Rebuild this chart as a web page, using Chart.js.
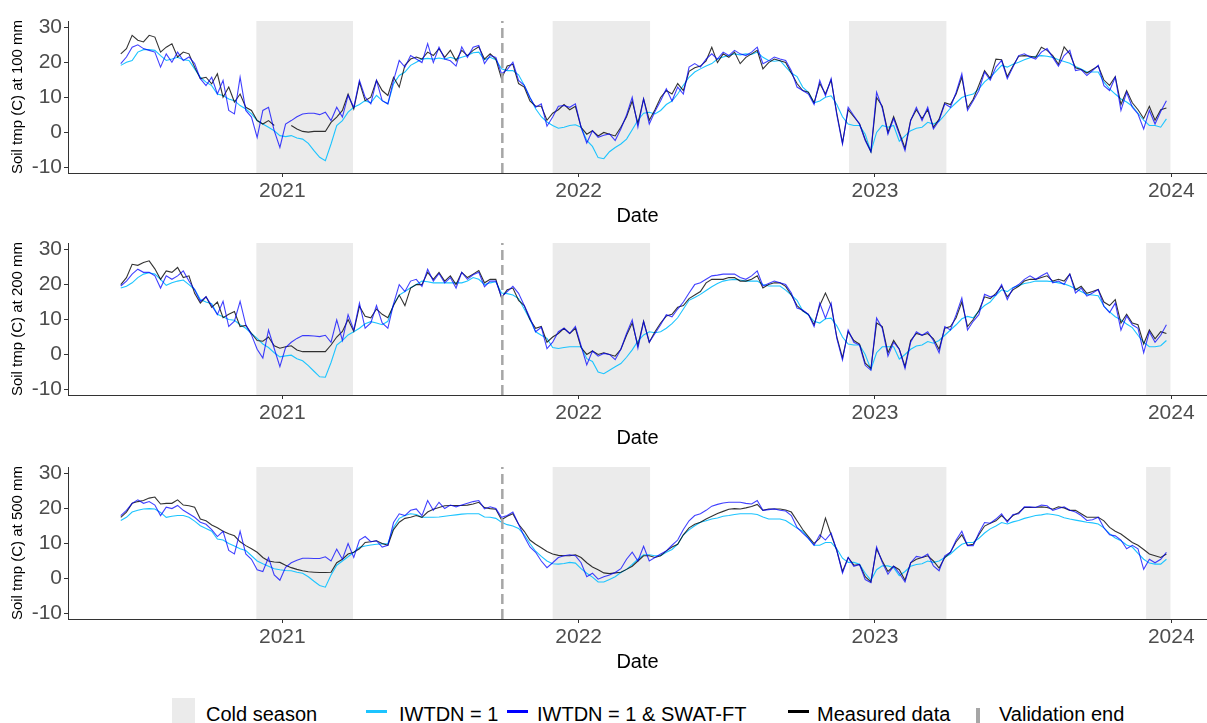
<!DOCTYPE html>
<html>
<head>
<meta charset="utf-8">
<title>Soil temperature at three depths</title>
<script src="https://cdn.jsdelivr.net/npm/chart.js@4.4.1/dist/chart.umd.min.js"></script>
<style>
  html, body { margin: 0; padding: 0; background: #fff; }
  body { position: relative; width: 1207px; height: 723px; overflow: hidden; font-family: "Liberation Sans", Arial, sans-serif; }
  .panel { position: absolute; left: 0; }
  .lg { position: absolute; top: 704px; font-size: 20px; line-height: 21px; color: #000; white-space: nowrap; }
  .key { position: absolute; }
</style>
</head>
<body>
<canvas id="c100" class="panel" width="1207" height="240" style="top:1px"></canvas>
<canvas id="c200" class="panel" width="1207" height="240" style="top:223px"></canvas>
<canvas id="c500" class="panel" width="1207" height="240" style="top:447px"></canvas>

<div id="legend">
  <div class="key" style="left:172px;top:698px;width:23px;height:30px;background:#ebebeb"></div>
  <div class="lg" style="left:206px">Cold season</div>
  <div class="key" style="left:366px;top:710px;width:21px;height:3px;background:#1cc4ff"></div>
  <div class="lg" style="left:399px">IWTDN = 1</div>
  <div class="key" style="left:507px;top:710px;width:21px;height:3px;background:#0000ff"></div>
  <div class="lg" style="left:537px">IWTDN = 1 &amp; SWAT-FT</div>
  <div class="key" style="left:788px;top:710px;width:21px;height:3px;background:#000"></div>
  <div class="lg" style="left:817px">Measured data</div>
  <div class="key" style="left:976px;top:708px;width:4px;height:20px;background:#a6a6a6"></div>
  <div class="lg" style="left:999px">Validation end</div>
</div>

<script>
// Weekly readings of daily soil temperature (deg C), starting 2020-06-16
const seriesStart = '2020-06-16';
const stepDays = 7;

const yearTicks = ['2021', '2022', '2023', '2024'];
const yTicks = [-10, 0, 10, 20, 30];
const coldStarts = ['2020-11-30', '2021-11-30', '2022-11-30', '2023-12-01'];
const coldEnds = ['2021-03-29', '2022-03-30', '2023-03-30', '2023-12-31'];
const validationEnd = '2021-09-29';

// 100 mm
const iwtdn100 = [
  19.2, 20.1, 20.6, 23, 23.7, 23.7, 23.5, 22, 20.6, 21,
  21.5, 20.8, 20.6, 18.2, 15.8, 14.4, 13.4, 11, 10.6, 9.6,
  9.1, 7.7, 6.7, 5.3, 3.4, 2.4, 1.5, 0.5, -0.9, -1.2,
  -0.9, -1.6, -1.9, -3.1, -5.2, -7.1, -8.1, -3.3, 2.0, 3.4,
  5.8, 7.2, 8, 9.1, 8.5, 10.6, 9.1, 8.2, 13.9, 16.3,
  17.3, 19.2, 20.1, 21, 21.2, 21, 21.3, 21, 21.5, 21,
  21.5, 22, 22.8, 23, 20.8, 21.5, 20.8, 18.2, 17.7, 17.7,
  16.5, 13.5, 10, 6.8, 4.5, 3, 2, 1.2, 1.5, 2,
  2.2, 1.5, -2.3, -4, -7.2, -7.5, -5.5, -4.3, -3.3, -1.9,
  0.8, 3.5, 5.5, 5.8, 5.3, 6.3, 8, 9, 11, 13.5,
  15.8, 17.3, 18.2, 19, 19.7, 21, 21.6, 22, 22.5, 22.2,
  22.5, 22.3, 23, 21.5, 20.6, 20.4, 20.6, 18.8, 17, 16,
  13, 11.5, 8.5, 9, 10.1, 10.5, 8, 4.5, 2.4, 2,
  2, -0.5, -5.5, 0, 2, 1.5, 2, -2.5, -1, 0.5,
  1.2, 1.5, 2.9, 2.4, 3.2, 5, 7, 8.5, 10, 10.6,
  11, 12.5, 14.5, 15.8, 17.5, 19.2, 18.7, 19.5, 20.1, 20.8,
  21.4, 21.8, 22, 21.8, 21.5, 20.8, 20.3, 19.8, 18.9, 18.2,
  17.3, 17.3, 17.3, 14.4, 12.5, 11, 9.6, 8.7, 7.5, 5.5,
  3.5, 2, 2, 1.5, 3.9
];
const swat100 = [
  19.7, 21.6, 24.4, 25.1, 24, 23.5, 23, 18.7, 22.5, 20.1,
  23, 20.6, 21.6, 19.7, 15.4, 13.4, 15.8, 11, 14.9, 6.3,
  5.3, 15.8, 6.3, 4.4, -1.4, 6.3, 7.2, 0.5, -4.3, 2.4,
  3.4, 4.5, 5.3, 5.5, 5.5, 5.1, 5.8, 3.4, 7.2, 4.4,
  10.6, 7.2, 14.9, 10.1, 8.2, 14.9, 9.1, 8.2, 14.9, 20.6,
  18.7, 22, 21, 20, 25.4, 20, 24.4, 21, 20.5, 19,
  24.5, 21.5, 24.4, 24.9, 19.7, 22, 21.5, 16.8, 18, 20.1,
  14.9, 13.5, 10, 7.2, 8.2, 1.8, 4.4, 7.5, 7.7, 7.2,
  8.2, 1.5, -3, 0.5, -1.4, -0.8, -0.4, -2.3, 1, 5,
  10.1, 1.5, 9.6, 2.4, 6, 9.1, 12.5, 9, 13, 11,
  18.7, 19.7, 18.7, 21, 22.5, 21, 23, 22, 23.5, 22.5,
  22, 23, 24.4, 19.7, 20.5, 21.6, 21, 20.6, 17.7, 13,
  12, 11, 8, 14.9, 10.5, 15.4, 5, -3.3, 7.2, 4.8,
  2.4, -2.3, -5.5, 11.5, 7, -0.5, 4, -0.5, -5.2, 3.4,
  7.2, 3.4, 7.2, 1, 3.4, 8.2, 7.2, 11.5, 16.8, 6.3,
  9.1, 12, 17.3, 15, 18.7, 20.6, 15.4, 18.7, 22, 22.5,
  21.6, 21, 23, 24, 21.5, 19, 22, 23.5, 17.7, 18,
  16.3, 17.7, 19.2, 13.4, 12, 15.8, 6.3, 11.5, 7.2, 5.3,
  1, 6.3, 2.4, 6, 9.1
];
const meas100 = [
  22.5, 24, 27.8, 26.4, 25.9, 27.8, 27.3, 23, 24.4, 25.4,
  21.6, 23, 22.5, 18.7, 15.4, 15.8, 13.9, 16.8, 10.1, 13,
  8.7, 11, 7.2, 6.3, 3.4, 2.4, 3.4, 2.0, null, null,
  2.0, 1.0, 0.3, 0.1, 0.3, 0.3, 0.3, 2.9, 4.4, 6.3,
  11, 6.7, 14.4, 9.1, 10.1, 14.9, 12, 10.6, 15.8, 13,
  19.2, 21, 21.6, 21, 23, 22, 24, 21.5, 23.5, 20.5,
  23.5, 22, 23.5, 24.5, 21, 22.5, 21, 15.4, 19, 19.5,
  14, 13, 9, 7.5, 7.5, 3.5, 5.5, 6.5, 8, 6.5,
  7.5, 1.5, -0.5, 0.5, -1, 0, -0.5, -1, 1.5, 4.5,
  9, 2.5, 9.6, 3.5, 6.5, 10, 12, 11, 14, 12,
  17.5, 18.5, 19, 20.5, 24.4, 20, 22.5, 21.5, 23, 19.7,
  21.5, 22.5, 23.5, 18.2, 20, 21, 20.5, 20, 17, 14,
  12, 11.5, 8.5, 14, 11, 15, 5.5, -3, 6.5, 4.5,
  2.5, -2, -5.5, 10, 7.5, 0, 4.5, 0, -4.5, 3.5,
  6.5, 4, 6.5, 1.5, 3.8, 8.5, 8, 11, 15.8, 7,
  9.5, 13.5, 17.7, 15.5, 21, 20.8, 16, 19, 21.8, 22,
  21.8, 21.5, 24.4, 23.5, 22, 19.5, 24.5, 22.5, 18.5, 18,
  17, 18, 19, 15, 13.5, 16, 8, 12, 8.5, 6.5,
  4, 7.5, 3.5, 6.5, 7
];

// 200 mm
const iwtdn200 = [
  19, 19.5, 20.5, 22, 23, 23.4, 23, 21.5, 19.8, 20.5,
  21, 21.3, 20, 18.6, 15.7, 15, 14.5, 11.5, 10.8, 10,
  9.8, 8.5, 7.5, 6, 4.6, 3, 2, 0.5, -0.7, -0.4,
  -0.2, -1.2, -1.8, -3.2, -4.8, -6.4, -6.5, -2.3, 2.7, 4,
  5.6, 6.5, 7.5, 8.8, 9.4, 9, 8.5, 9.5, 14.3, 17,
  18, 19.1, 20, 21, 20.8, 20.5, 20.5, 20.5, 20.5, 20.5,
  20.5, 21, 22, 21.5, 20, 20.5, 20.8, 17.6, 17.4, 17,
  16, 13, 10, 6.5, 5.5, 4.6, 2, 1.7, 2, 2.2,
  2.2, 2.2, -1.2, -2, -5, -5.5, -4.5, -3.5, -2.6, -0.8,
  1.3, 3.8, 5.6, 6.5, 6.2, 6.5, 7.5, 8.8, 10.5, 13,
  15.5, 16.3, 17.2, 18.3, 19.4, 20.3, 21, 21.3, 21.5, 21.3,
  21, 21, 21, 20, 19.6, 19.6, 19.6, 18.4, 17, 15.5,
  12.5, 11.3, 9.5, 9, 10.2, 10.4, 8.2, 5, 3, 2.7,
  2.7, 0, -4.3, 0.5, 2.2, 2.2, 2.2, -1.3, 0, 1.5,
  2.4, 2.7, 3.7, 3.2, 4, 5.5, 7, 8.5, 10.2, 10.9,
  10.5, 12.5, 14, 15, 17, 18.5, 18, 19.2, 19.7, 20.3,
  20.6, 21, 21, 21, 20.8, 20.5, 20.2, 19.6, 18.8, 18,
  17.2, 17, 16.8, 13.8, 12.2, 10.8, 9.9, 8.7, 7.7, 5.5,
  3.5, 2.2, 2.2, 2.5, 4
];
const swat200 = [
  19.6, 21, 23, 24.4, 23.5, 23.5, 22.5, 19, 22.5, 21.5,
  22.5, 23.9, 21, 18.5, 15.2, 16.5, 14, 11.4, 15.2, 8,
  9.5, 15.2, 8.5, 5.6, 1.5, -1, 7, 1.7, -3.5, 2,
  3.5, 4.6, 5.4, 5.4, 5.3, 5.1, 5.5, 3.5, 9.9, 4,
  11.4, 7, 14.7, 7.5, 9, 14, 9, 7.5, 14.5, 20,
  18, 21, 21.5, 19.5, 24.4, 21, 23.2, 20.5, 22, 19,
  23.5, 21.5, 22.8, 23.5, 19.4, 21, 21, 16.5, 18, 19.5,
  17.5, 14, 10.5, 6.5, 7.8, 1.7, 3.5, 6.5, 7.5, 6,
  8, 2.5, -3, 1, -0.5, 0.3, 0, -1.5, 1.5, 6,
  9.9, 1.8, 9.4, 3.5, 6, 8.5, 11.4, 10.8, 13, 15,
  17.6, 20, 20.5, 21.5, 22.5, 22.7, 23, 23, 23, 22,
  21.5, 22.5, 23.9, 19.6, 20.3, 21, 20.5, 20, 17.6, 13.3,
  12.7, 11.5, 8, 14.7, 10.4, 14.7, 4.6, -1.6, 7, 3.5,
  2.7, -3.1, -4.5, 10.4, 7.5, -0.5, 3.5, 1.5, -4, 3.5,
  6.5, 5.5, 6.5, 4, 0.5, 8, 7, 11.4, 16.2, 7,
  9.5, 11.4, 17.2, 16.5, 17, 20, 15.7, 19, 20, 21.5,
  22.5, 21.5, 22.5, 23.4, 20.5, 21, 20, 23, 17.6, 19,
  16.7, 17.6, 18.6, 13.8, 12, 14.7, 7, 11, 8.5, 7.5,
  0.5, 6.5, 3.5, 5.5, 8.5
];
const meas200 = [
  20, 22, 25.8, 25.5, 26.3, 26.8, 24.5, 21.5, 23.9, 23.5,
  24.9, 22, 22.5, 17.5, 14.7, 16.5, 13.5, 15, 10.5, 11.5,
  12.3, 8, 8.3, 6, 4, 3.8, 5, 2.5, 1.8, 2.2,
  2.5, 1.3, 0.8, 0.8, 0.8, 0.8, 0.8, 2.7, 5, 6.6,
  10, 6.6, 13.8, 10.9, 10.5, 13, 11.5, 10.5, 14, 17,
  14, 19, 20, 20, 23.5, 21.5, 23.5, 21, 22.5, 20,
  23.5, 22, 23, 24, 20.5, 21.5, 21.5, 16.2, 18.5, 19,
  15.5, 14, 10, 7.5, 8, 3.5, 5, 6, 7.5, 6,
  7.5, 2, 0, 1, 0, 0.5, 0, -0.5, 1.5, 5.5,
  9, 2.5, 9.5, 3.5, 6.5, 9, 11, 11.5, 13.5, 14,
  16, 17, 18, 20.5, 21.5, 21.5, 21.5, 22, 22, 21,
  21, 21.5, 22.5, 19, 20, 20.5, 20.5, 19.5, 17, 14,
  12.5, 11.5, 8.5, 14, 17.6, 14, 5, -1, 6.5, 4,
  3, -2.5, -4, 9, 8, 0.5, 4, 1.5, -3.5, 4,
  6, 5.5, 6, 4.5, 1.5, 7.5, 8, 10.5, 15, 8,
  10, 12.5, 16.5, 16, 17.5, 19.5, 16.5, 18.5, 19.5, 21,
  21.5, 21.5, 22, 22.5, 21, 21.5, 21, 23, 18.5, 19.5,
  17.5, 18, 18.6, 15, 14, 15.7, 9, 11.5, 9, 8.5,
  3, 7, 4.5, 6.5, 6
];

// 500 mm
const iwtdn500 = [
  16.6, 17.5, 19, 19.5, 19.9, 20, 19.9, 18.9, 17.5, 17.8,
  18, 18, 17.5, 16.4, 15.1, 14.3, 13.5, 11.3, 11, 10,
  9.3, 8.5, 8, 6.5, 5, 4.2, 3.5, 2.8, 2.5, 2.3,
  2.2, 1.8, 1.5, 0.5, -0.8, -2, -2.5, 1, 3.8, 5,
  6.2, 7.5, 8.9, 9.3, 9.6, 9.8, 9.9, 10, 14.6, 17.2,
  18, 18.5, 18.3, 17.5, 17.5, 17.5, 17.6, 17.8, 18, 18.2,
  18.4, 18.5, 18.5, 18.5, 17.6, 17.5, 17.2, 16.1, 15.4, 15,
  14.3, 12.5, 10, 7.8, 6.3, 5, 4.2, 4.1, 4.3, 4.6,
  4.4, 2.8, 1.5, 0.4, -1, -1, -0.3, 0.5, 1.7, 2.6,
  4, 5.5, 6.8, 6.8, 6.5, 6.5, 7.5, 8.3, 9.8, 12.5,
  13.9, 15.1, 16.1, 16.5, 17, 17.3, 17.8, 18, 18.3, 18.5,
  18.5, 18.5, 18.3, 17.6, 17, 17, 17, 16.6, 15.5, 14.4,
  13.5, 11.5, 9.5, 9.5, 10.3, 10.3, 8.5, 5.8, 4.6, 4.6,
  4.1, 1.5, -0.5, 2.5, 3.6, 3.6, 3.1, 0.8, 2, 3.5,
  4, 4.2, 5, 4.6, 5, 6, 7, 8.5, 9.8, 10.3,
  10.3, 11.5, 13, 14.2, 15, 16, 15.6, 16.2, 16.6, 17.2,
  17.6, 18, 18.2, 18.5, 18.3, 18, 17.4, 17, 16.7, 16.4,
  16.1, 15.9, 15.6, 14.5, 12.8, 11.6, 10.8, 9.6, 9, 7.2,
  5.5, 4.4, 4.1, 4.1, 5.5
];
const swat500 = [
  18, 19.5, 21.5, 22.5, 21.5, 22, 21, 18, 20.4, 20,
  20.9, 19.5, 18.5, 17.5, 16.1, 15.5, 14, 12, 13.5, 8,
  7, 13.5, 7, 5.5, 2.5, 2, 6, 1, -0.5, 3.2,
  4.5, 5.2, 5.8, 5.8, 5.7, 5.7, 6.2, 5, 8.4, 5.5,
  10, 6, 11, 12, 10.5, 10.8, 9, 9.5, 16, 18.5,
  18, 19.5, 19.9, 18, 22.3, 19.5, 21.8, 20, 21, 20.5,
  21, 21.5, 22, 22.3, 19.9, 20.5, 20, 17.5, 18, 19,
  15.5, 12, 9, 7.5, 5, 3.1, 4.5, 6, 6.5, 6.8,
  6.5, 4.5, 0.5, 1.5, -0.2, 0.5, 1, 1.7, 2.8, 5.5,
  7.5, 5, 9.2, 5, 6, 7, 7.9, 9.5, 11, 14,
  16.5, 18, 18.5, 19.5, 20.7, 21.2, 21.6, 21.8, 21.8, 21.8,
  21.5, 21.3, 22.3, 19.5, 19.7, 19.9, 19.5, 19.3, 18, 14.6,
  13, 11.5, 9.5, 12.5, 11, 13, 8, 1.5, 6, 3.5,
  4, -0.3, -1.2, 9, 4.6, 1.2, 3.5, 1.5, -1, 4.5,
  6.3, 6, 7, 3.6, 2.2, 6.5, 7.5, 11, 13.5, 9.4,
  9.4, 13, 16, 15.8, 17, 18.5, 16.1, 18.3, 18.5, 20.5,
  20.5, 20.3, 21, 20.8, 19.5, 20, 20.5, 19.5, 19, 18,
  16.6, 16.8, 17.5, 14.5, 12.5, 12.2, 11, 8.5, 9.5, 8.5,
  2.6, 5.5, 4.5, 5.5, 7.5
];
const meas500 = [
  17.5, 19, 21.5, 22, 22.3, 23, 23.3, 21.3, 21.5, 21.5,
  22.5, 21, 20.8, 20.4, 17, 16.5, 15.3, 14.5, 13.5, 12.8,
  12.2, 10.5, 9.4, 8.5, 7.5, 6, 5, 4.7, 4.6, 3.8,
  3.1, 2.6, 2.2, 1.9, 1.8, 1.7, 1.7, 1.8, 4.5, 5.5,
  7, 7.5, 8.5, 10.3, 10.5, 10.8, 10, 9.5, 14, 16.1,
  17.2, 17.5, 18, 17.5, 19, 19.8, 20.3, 20.8, 20.9, 20.9,
  20.9, 21, 21.3, 21.8, 20.3, 20, 19.8, 16.8, 17.8, 18.5,
  15.5, 13.5, 11, 9.8, 8.8, 7.7, 7, 6.6, 6.5, 6.5,
  6.8, 6, 4.5, 3.3, 2.5, 1.6, 1.4, 1.6, 1.8, 2.6,
  3.5, 5, 6.5, 6.5, 6, 6.5, 7.9, 9, 9.8, 12.5,
  14.5, 15.5, 16.1, 17, 17.8, 18.6, 19.2, 19.8, 20, 19.9,
  20.2, 20.6, 21.2, 19.5, 19.9, 19.9, 19.9, 19.6, 19, 16.5,
  14, 12, 10, 11.5, 17.3, 12.5, 8, 2, 6, 3.8,
  4, 0.5, -1, 8.5, 5, 2, 3.5, 2.5, -0.5, 4.5,
  5.5, 6, 6.5, 5, 3, 6, 7.5, 10.5, 12.5, 9.5,
  9.8, 12.5, 15, 15.8, 16.5, 18, 16.5, 18, 18.8, 20.3,
  20.3, 20.4, 20.5, 20.3, 19.8, 20.5, 20.2, 19.5, 19.5, 18.5,
  17.5, 17.5, 17.5, 16.5, 14.6, 13.5, 12.7, 11.5, 10.3, 9.5,
  8.3, 7, 6.5, 6, 7
];

// day numbers relative to 2021-01-01
const DAY0 = Date.UTC(2021, 0, 1);
function dayOf(s) {
    return (Date.parse(s + 'T00:00:00Z') - DAY0) / 86400000;
}

function toPoints(values) {
    const x0 = dayOf(seriesStart);
    return values.map((v, k) => ({ x: x0 + stepDays * k, y: v }));
}

const FONT = "'Liberation Sans', Arial, sans-serif";
const AXIS_GREY = '#333333';
const TICK_TEXT = '#4d4d4d';

// grey cold-season bands under everything, dashed validation line on top
const seasonMarks = {
    id: 'seasonMarks',
    beforeDraw(chart) {
        const { ctx, chartArea, scales: { x } } = chart;
        ctx.save();
        ctx.fillStyle = '#ebebeb';
        coldStarts.forEach((s, i) => {
            const x1 = x.getPixelForValue(dayOf(s));
            const x2 = x.getPixelForValue(dayOf(coldEnds[i]));
            ctx.fillRect(x1, chartArea.top, x2 - x1, chartArea.bottom - chartArea.top);
        });
        ctx.restore();
    },
    afterDatasetsDraw(chart) {
        const { ctx, chartArea, scales: { x } } = chart;
        const px = x.getPixelForValue(dayOf(validationEnd));
        ctx.save();
        ctx.strokeStyle = '#a6a6a6';
        ctx.lineWidth = 2.5;
        ctx.setLineDash([10, 5]);
        ctx.beginPath();
        ctx.moveTo(px, chartArea.bottom);
        ctx.lineTo(px, chartArea.top);
        ctx.stroke();
        ctx.restore();
    }
};

function drawPanel(canvasId, yTitle, iwtdn, swat, meas) {
    const ctx = document.getElementById(canvasId);
    const line = { borderWidth: 1.1, pointRadius: 0, fill: false, tension: 0 };

    return new Chart(ctx, {
        type: 'line',
        data: {
            datasets: [
                Object.assign({ label: 'IWTDN = 1', data: toPoints(iwtdn), borderColor: '#1cc4ff', order: 3 }, line),
                Object.assign({ label: 'IWTDN = 1 & SWAT-FT', data: toPoints(swat), borderColor: 'rgba(0, 0, 255, 0.75)', order: 1 }, line),
                Object.assign({ label: 'Measured data', data: toPoints(meas), borderColor: 'rgba(0, 0, 0, 0.8)', order: 2 }, line)
            ]
        },
        options: {
            responsive: false,
            animation: false,
            layout: { padding: { top: 20, right: 0, bottom: 13, left: 0 } },
            plugins: {
                legend: { display: false },
                tooltip: { enabled: false }
            },
            scales: {
                x: {
                    type: 'linear',
                    min: dayOf('2020-04-12'),
                    max: dayOf('2024-02-14'),
                    afterBuildTicks: scale => {
                        scale.ticks = yearTicks.map(y => ({ value: dayOf(y + '-01-01') }));
                    },
                    afterFit: scale => { scale.height = 55; },
                    ticks: {
                        autoSkip: false,
                        maxRotation: 0,
                        padding: 2,
                        color: TICK_TEXT,
                        font: { family: FONT, size: 21 },
                        callback: (value, index) => yearTicks[index]
                    },
                    grid: {
                        display: true,
                        drawOnChartArea: false,
                        drawTicks: true,
                        tickLength: 4,
                        color: AXIS_GREY
                    },
                    border: { display: true, color: AXIS_GREY, width: 1 },
                    title: {
                        display: true,
                        text: 'Date',
                        color: '#000',
                        font: { family: FONT, size: 20 },
                        padding: { top: 0, bottom: 0 }
                    }
                },
                y: {
                    min: -11.6,
                    max: 31.9,
                    afterBuildTicks: scale => {
                        scale.ticks = yTicks.map(v => ({ value: v }));
                    },
                    afterFit: scale => { scale.width = 68; },
                    ticks: {
                        padding: 2,
                        color: TICK_TEXT,
                        font: { family: FONT, size: 21 }
                    },
                    grid: {
                        display: true,
                        drawOnChartArea: false,
                        drawTicks: true,
                        tickLength: 4,
                        color: AXIS_GREY
                    },
                    border: { display: true, color: AXIS_GREY, width: 1 },
                    title: {
                        display: true,
                        text: yTitle,
                        color: '#000',
                        font: { family: FONT, size: 15 },
                        padding: { top: 8.5, bottom: 0 }
                    }
                }
            }
        },
        plugins: [seasonMarks]
    });
}

drawPanel('c100', 'Soil tmp (C) at 100 mm', iwtdn100, swat100, meas100);
drawPanel('c200', 'Soil tmp (C) at 200 mm', iwtdn200, swat200, meas200);
drawPanel('c500', 'Soil tmp (C) at 500 mm', iwtdn500, swat500, meas500);
</script>
</body>
</html>
